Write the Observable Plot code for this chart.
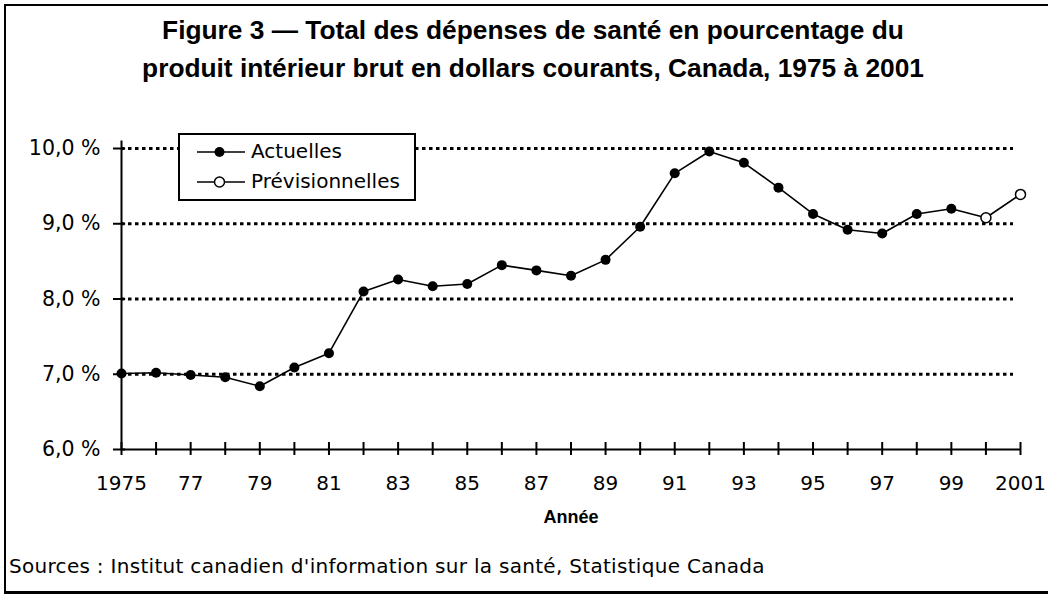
<!DOCTYPE html>
<html>
<head>
<meta charset="utf-8">
<script src="https://cdn.jsdelivr.net/npm/d3@7"></script>
<script src="https://cdn.jsdelivr.net/npm/@observablehq/plot@0.6"></script>
<style>
  body { margin: 0; background: #fff; }
  #wrap { position: relative; width: 1048px; height: 594px; overflow: hidden; background: #fff; }
  #frame { position: absolute; left: 4px; top: 4px; width: 1100px; height: 590px; border: 2px solid #000; border-bottom-width: 3px; box-sizing: border-box; }
  #title { position: absolute; left: 0; top: 11px; width: 1066px; text-align: center; font-family: "Liberation Sans", Arial, sans-serif; font-weight: bold; font-size: 26.3px; line-height: 38px; color: #000; white-space: nowrap; }
  #chart { position: absolute; left: 0; top: 100px; }
  #legend { position: absolute; left: 178px; top: 133px; }
  #caption { position: absolute; left: 9px; top: 556px; font-family: "DejaVu Sans", sans-serif; font-size: 20px; letter-spacing: 0.3px; line-height: 20px; color: #000; white-space: nowrap; }
</style>
</head>
<body>
<div id="wrap">
  <div id="frame"></div>
  <div id="title">Figure 3 — Total des dépenses de santé en pourcentage du<br>produit intérieur brut en dollars courants, Canada, 1975 à 2001</div>
  <div id="chart"></div>
  <div id="legend"></div>
  <div id="caption">Sources : Institut canadien d'information sur la santé, Statistique Canada</div>
</div>
<script>
// ---- Data ----
const actualYears = [1975, 1976, 1977, 1978, 1979, 1980, 1981, 1982, 1983, 1984, 1985, 1986, 1987,
                     1988, 1989, 1990, 1991, 1992, 1993, 1994, 1995, 1996, 1997, 1998, 1999];
const actualValues = [7.01, 7.02, 6.99, 6.96, 6.84, 7.09, 7.28, 8.10, 8.26, 8.17, 8.20, 8.45, 8.38,
                      8.31, 8.52, 8.96, 9.67, 9.96, 9.81, 9.48, 9.13, 8.92, 8.87, 9.13, 9.20];
const forecastYears = [2000, 2001];
const forecastValues = [9.08, 9.39];
const tickYears = [1975, 1976, 1977, 1978, 1979, 1980, 1981, 1982, 1983, 1984, 1985, 1986, 1987,
                   1988, 1989, 1990, 1991, 1992, 1993, 1994, 1995, 1996, 1997, 1998, 1999, 2000, 2001];
const labelYears = [1975, 1977, 1979, 1981, 1983, 1985, 1987, 1989, 1991, 1993, 1995, 1997, 1999, 2001];
const labelTexts = ["1975", "77", "79", "81", "83", "85", "87", "89", "91", "93", "95", "97", "99", "2001"];
const yTicks = [6, 7, 8, 9, 10];
const gridValues = [7, 8, 9, 10];
const seriesNames = ["Actuelles", "Prévisionnelles"];
const xAxisTitle = "Année";

// ---- Tables ----
const actual = actualYears.map((year, i) => ({year, value: actualValues[i]}));
const forecast = forecastYears.map((year, i) => ({year, value: forecastValues[i]}));
const all = actual.concat(forecast);
const labels = labelYears.map((year, i) => ({year, text: labelTexts[i]}));

const axisFont = "DejaVu Sans, sans-serif";

const chart = Plot.plot({
  width: 1048,
  height: 440,
  marginTop: 48,
  marginBottom: 91,
  marginLeft: 121,
  marginRight: 28,
  style: {background: "transparent", fontFamily: axisFont, color: "#000"},
  x: {domain: [1975, 2001], axis: null},
  y: {domain: [6, 10], axis: null},
  marks: [
    // dotted gridlines
    Plot.ruleY(gridValues, {y: d => d, x1: 1975, x2: 2001, insetRight: 7, stroke: "#000", strokeWidth: 3, strokeDasharray: "3.5,3.5"}),
    // y axis line and ticks
    Plot.ruleX([1975], {x: d => d, y1: 6, y2: 10.1, stroke: "#000", strokeWidth: 2}),
    Plot.axisY({ticks: yTicks, tickSize: 8, tickPadding: 13, tickFormat: d => d.toFixed(1).replace(".", ",") + " %",
                fontSize: 20.5, fontFamily: axisFont, stroke: "#000", strokeWidth: 2, label: null}),
    Plot.ruleY(yTicks, {y: d => d, x1: 1975, x2: 1975.12, stroke: "#000", strokeWidth: 2}),
    // x axis line and crossing ticks
    Plot.ruleY([6], {y: d => d, x1: 1975, x2: 2001, stroke: "#000", strokeWidth: 2}),
    Plot.ruleX(tickYears, {x: d => d, y1: 5.92, y2: 6.093, stroke: "#000", strokeWidth: 2}),
    Plot.text(labels, {x: "year", y: 6, text: "text", dy: 26, lineAnchor: "top", fontSize: 20, fontFamily: axisFont, fill: "#000"}),
    Plot.text([xAxisTitle], {frameAnchor: "bottom", text: d => d, dy: 61, lineAnchor: "top", fontSize: 18, fontWeight: "bold", fontFamily: "Liberation Sans, Arial, sans-serif", fill: "#000"}),
    // series
    Plot.line(all, {x: "year", y: "value", stroke: "#000", strokeWidth: 1.6}),
    Plot.dot(actual, {x: "year", y: "value", r: 5, fill: "#000", stroke: "none"}),
    Plot.dot(forecast, {x: "year", y: "value", r: 5, fill: "#fff", stroke: "#000", strokeWidth: 1.5})
  ]
});
document.getElementById("chart").appendChild(chart);

// ---- Legend (inside plot area, boxed) ----
const ns = "http://www.w3.org/2000/svg";
const lg = d3.select("#legend").append("svg").attr("xmlns", ns).attr("width", 238).attr("height", 68);
lg.append("rect").attr("x", 1).attr("y", 1).attr("width", 236).attr("height", 66)
  .attr("fill", "#fff").attr("stroke", "#000").attr("stroke-width", 2);
seriesNames.forEach((name, i) => {
  const cy = 19 + i * 30;
  lg.append("line").attr("x1", 19).attr("x2", 67).attr("y1", cy).attr("y2", cy).attr("stroke", "#000").attr("stroke-width", 1.6);
  lg.append("circle").attr("cx", 41.5).attr("cy", cy).attr("r", 5)
    .attr("fill", i === 0 ? "#000" : "#fff").attr("stroke", i === 0 ? "none" : "#000").attr("stroke-width", 1.5);
  lg.append("text").attr("x", 73).attr("y", cy + 6).attr("font-family", axisFont).attr("font-size", 20).attr("fill", "#000").text(name);
});
</script>
</body>
</html>
